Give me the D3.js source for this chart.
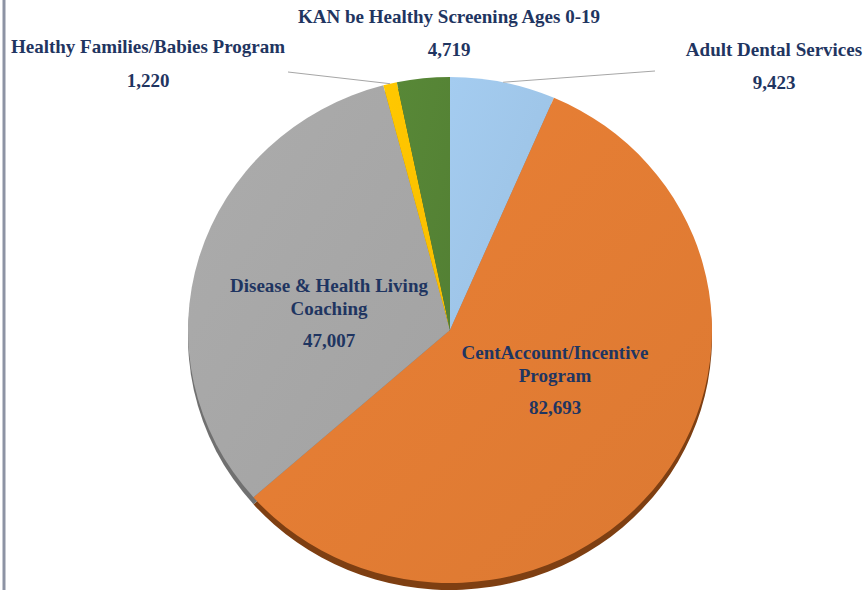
<!DOCTYPE html>
<html>
<head>
<style>
  body { margin: 0; background: #fff; }
  .lbl { font-family: "Liberation Serif", "Times New Roman", serif; font-weight: bold; font-size: 19px; fill: #1f3561; }
</style>
<script src="https://d3js.org/d3.v7.min.js"></script>
</head>
<body>
<div id="chart"></div>
<script>
var categories = ["Adult Dental Services", "CentAccount/Incentive Program", "Disease & Health Living Coaching",
                  "Healthy Families/Babies Program", "KAN be Healthy Screening Ages 0-19"];
var values = [9423, 82693, 47007, 1220, 4719];
var colors = ["#9dc3e6", "#e07b33", "#a5a5a5", "#ffc000", "#548235"];
var sideColors = ["#6f8fae", "#7e3f12", "#707070", "#b38600", "#3a5a24"];

var width = 864, height = 590;
var cx = 450, cy = 330, rx = 262, ry = 253, depth = 7;
var sy = ry / rx;

var svg = d3.select("#chart").append("svg")
    .attr("width", width).attr("height", height);

// left frame line
svg.append("line").attr("x1", 4).attr("x2", 4).attr("y1", 0).attr("y2", height)
    .attr("stroke", "#8d93a4").attr("stroke-width", 3);

var data = categories.map(function(c, i) { return { cat: c, value: values[i], i: i }; });
var pie = d3.pie().sort(null).value(function(d) { return d.value; });
var arcs = pie(data);
var arc = d3.arc().innerRadius(0).outerRadius(rx);

var defs = svg.append("defs");
colors.forEach(function(c, i) {
  var g = defs.append("linearGradient").attr("id", "g" + i)
      .attr("x1", "0%").attr("y1", "0%").attr("x2", "100%").attr("y2", "100%");
  g.append("stop").attr("offset", "0%").attr("stop-color", d3.color(c).brighter(0.12));
  g.append("stop").attr("offset", "100%").attr("stop-color", d3.color(c).darker(0.05));
});

// 3D side
var side = svg.append("g").attr("transform", "translate(" + cx + "," + (cy + depth) + ") scale(1," + sy + ")");
side.selectAll("path").data(arcs).enter().append("path")
    .attr("d", arc).attr("fill", function(d) { return sideColors[d.data.i]; });

var face = svg.append("g").attr("transform", "translate(" + cx + "," + cy + ") scale(1," + sy + ")");
face.selectAll("path").data(arcs).enter().append("path")
    .attr("d", arc).attr("fill", function(d) { return "url(#g" + d.data.i + ")"; });

var fmt = d3.format(",");

// leader lines for outside labels
var outer = d3.arc().innerRadius(rx).outerRadius(rx);
function leader(k, x2, y2) {
  var c = outer.centroid(arcs[k]);
  svg.append("line")
      .attr("x1", cx + c[0]).attr("y1", cy + c[1] * sy)
      .attr("x2", x2).attr("y2", y2)
      .attr("stroke", "#a6a6a6").attr("stroke-width", 1);
}
leader(0, 655, 71);
leader(3, 288, 72);

function label(lines, x, y, gap, valueGap, v) {
  var t = svg.append("text").attr("class", "lbl").attr("text-anchor", "middle");
  lines.forEach(function(l, j) {
    t.append("tspan").attr("x", x).attr("y", y + j * gap).text(l);
  });
  svg.append("text").attr("class", "lbl").attr("text-anchor", "middle")
      .attr("x", x).attr("y", y + (lines.length - 1) * gap + valueGap).text(fmt(v));
}

label(["KAN be Healthy Screening Ages 0-19"], 449, 23, 0, 33, values[4]);
label(["Healthy Families/Babies Program"], 148, 53, 0, 34, values[3]);
label(["Adult Dental Services"], 774, 56, 0, 33, values[0]);
label(["Disease & Health Living", "Coaching"], 329, 292, 23, 32, values[2]);
label(["CentAccount/Incentive", "Program"], 555, 359, 23, 32, values[1]);
</script>
</body>
</html>
